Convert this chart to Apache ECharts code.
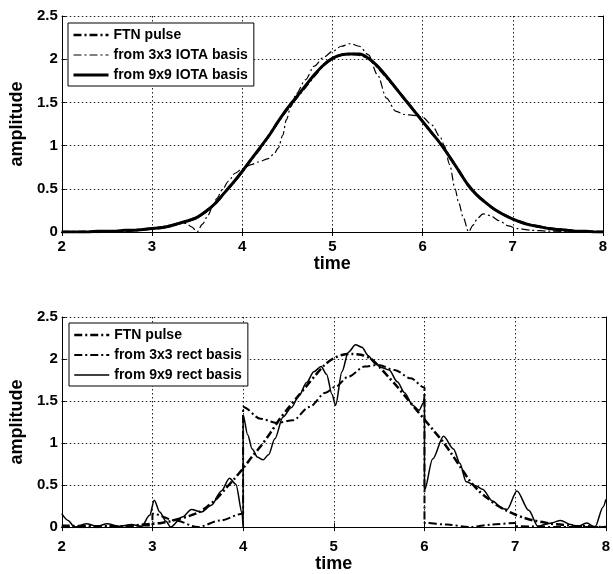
<!DOCTYPE html>
<html>
<head>
<meta charset="utf-8">
<script src="https://cdn.jsdelivr.net/npm/echarts@6/dist/echarts.min.js"></script>
<style>
  html, body { margin: 0; padding: 0; background: #fff; }
  #chart { width: 613px; height: 574px; }
</style>
</head>
<body>
<div id="chart"></div>
<script>
// ---------- data ----------
const xTicks = [2, 3, 4, 5, 6, 7, 8];
const yTicks = [0, 0.5, 1, 1.5, 2, 2.5];

const timeGrid = [2.0, 2.1, 2.2, 2.3, 2.4, 2.5, 2.6, 2.7, 2.8, 2.9,
  3.0, 3.1, 3.2, 3.3, 3.4, 3.5, 3.6, 3.7, 3.8, 3.9,
  4.0, 4.1, 4.2, 4.3, 4.4, 4.5, 4.6, 4.7, 4.8, 4.9,
  5.0, 5.1, 5.2, 5.3, 5.4, 5.5, 5.6, 5.7, 5.8, 5.9,
  6.0, 6.1, 6.2, 6.3, 6.4, 6.5, 6.6, 6.7, 6.8, 6.9,
  7.0, 7.1, 7.2, 7.3, 7.4, 7.5, 7.6, 7.7, 7.8, 7.9, 8.0];

const ftnPulse = [0.00, 0.00, 0.00, 0.00, 0.00, 0.01, 0.01, 0.01, 0.02, 0.03,
  0.04, 0.05, 0.07, 0.10, 0.13, 0.17, 0.24, 0.33, 0.45, 0.57,
  0.70, 0.84, 0.97, 1.12, 1.28, 1.42, 1.55, 1.68, 1.81, 1.93,
  2.01, 2.05, 2.06, 2.05, 2.01, 1.91, 1.79, 1.67, 1.54, 1.41,
  1.28, 1.15, 1.02, 0.87, 0.71, 0.55, 0.43, 0.34, 0.26, 0.20,
  0.15, 0.11, 0.08, 0.06, 0.04, 0.03, 0.02, 0.01, 0.01, 0.00, 0.00];

const iota9 = [0.00, 0.00, 0.00, 0.00, 0.01, 0.01, 0.01, 0.02, 0.02, 0.03,
  0.04, 0.05, 0.07, 0.10, 0.13, 0.17, 0.24, 0.33, 0.45, 0.57,
  0.70, 0.84, 0.98, 1.12, 1.28, 1.43, 1.56, 1.69, 1.82, 1.93,
  2.01, 2.05, 2.06, 2.06, 2.01, 1.92, 1.80, 1.67, 1.54, 1.41,
  1.28, 1.15, 1.02, 0.87, 0.71, 0.55, 0.43, 0.34, 0.26, 0.20,
  0.15, 0.11, 0.08, 0.06, 0.04, 0.03, 0.02, 0.01, 0.01, 0.00, 0.00];

const iota3Time = [2.0, 2.5, 2.8, 3.0, 3.1, 3.2, 3.3, 3.38, 3.44, 3.5, 3.56, 3.62, 3.67, 3.72, 3.78, 3.85, 3.92,
  4.0, 4.1, 4.18, 4.29, 4.35, 4.4, 4.45, 4.49, 4.54, 4.6, 4.7, 4.8, 4.9, 5.0, 5.1, 5.2, 5.3, 5.4, 5.5,
  5.6, 5.7, 5.8, 5.9, 6.0, 6.1, 6.2, 6.24, 6.3, 6.36, 6.4, 6.45, 6.51, 6.56, 6.61, 6.67, 6.75, 6.85,
  6.95, 7.05, 7.2, 7.4, 7.7, 8.0];
const iota3 = [0.00, 0.01, 0.02, 0.04, 0.06, 0.08, 0.10, 0.10, 0.06, 0.00, 0.09, 0.19, 0.29, 0.39, 0.49, 0.59, 0.68,
  0.73, 0.78, 0.81, 0.85, 0.90, 0.97, 1.12, 1.30, 1.45, 1.60, 1.76, 1.92, 2.02, 2.09, 2.15, 2.18, 2.15, 2.05, 1.82,
  1.55, 1.40, 1.36, 1.35, 1.33, 1.24, 1.09, 1.00, 0.78, 0.50, 0.34, 0.17, 0.00, 0.08, 0.16, 0.21, 0.19, 0.13,
  0.07, 0.04, 0.02, 0.01, 0.00, 0.00];

const rect3Time = [2.0, 2.5, 3.0, 3.0, 3.25, 3.5, 3.75, 4.0, 4.0, 4.19, 4.37, 4.55, 4.73, 4.91, 5.02, 5.16,
  5.34, 5.49, 5.67, 5.85, 6.0, 6.0, 6.25, 6.5, 6.75, 7.0, 7.0, 7.5, 8.0];
const rect3 = [0.02, 0.01, 0.02, 0.16, 0.08, 0.00, 0.08, 0.16, 1.43, 1.29, 1.24, 1.27, 1.43, 1.60, 1.67, 1.79,
  1.91, 1.93, 1.87, 1.77, 1.66, 0.05, 0.03, 0.00, 0.03, 0.05, 0.01, 0.00, 0.00];

const rect9Time = [2.0, 2.07, 2.14, 2.27, 2.39, 2.5, 2.63, 2.77, 2.88, 2.97, 3.02, 3.08, 3.15, 3.2, 3.33, 3.43,
  3.54, 3.65, 3.76, 3.85, 3.92, 3.99, 4.0, 4.0, 4.05, 4.1, 4.16, 4.22, 4.28, 4.35, 4.44, 4.53, 4.62, 4.7,
  4.78, 4.86, 4.92, 4.98, 5.02, 5.09, 5.16, 5.24, 5.31, 5.38, 5.45, 5.52, 5.61, 5.7, 5.78, 5.87, 5.94,
  5.99, 6.0, 6.0, 6.09, 6.21, 6.32, 6.39, 6.46, 6.57, 6.64, 6.75, 6.86, 6.91, 7.02, 7.15, 7.25, 7.4, 7.5,
  7.61, 7.68, 7.79, 7.88, 7.97, 8.0];
const rect9 = [0.16, 0.08, 0.00, 0.04, 0.01, 0.04, 0.01, 0.03, 0.01, 0.14, 0.32, 0.18, 0.07, 0.00, 0.12, 0.21,
  0.18, 0.26, 0.43, 0.58, 0.51, 0.16, 0.00, 1.33, 1.10, 0.93, 0.83, 0.80, 0.86, 1.05, 1.31, 1.42, 1.57, 1.72,
  1.85, 1.91, 1.82, 1.58, 1.45, 1.85, 2.08, 2.17, 2.14, 2.04, 1.95, 1.90, 1.87, 1.73, 1.60, 1.45, 1.39,
  1.48, 1.58, 0.44, 0.81, 1.08, 0.93, 0.76, 0.54, 0.49, 0.45, 0.31, 0.22, 0.21, 0.43, 0.20, 0.01, 0.05, 0.08,
  0.03, 0.00, 0.05, 0.00, 0.24, 0.33];

// ---------- helpers ----------
function pairs(xs, ys) { return xs.map((x, i) => [x, ys[i]]); }

const FONT = "'Liberation Sans', Arial, Helvetica, sans-serif";
const DASHDOT = [8, 3, 2, 3];

function axesFor(gridIndex) {
  const common = { type: 'value', gridIndex: gridIndex, min: xTicks[0], max: xTicks[xTicks.length - 1], interval: 1 };
  const yCommon = { type: 'value', gridIndex: gridIndex, min: yTicks[0], max: yTicks[yTicks.length - 1], interval: 0.5 };
  const line = { show: true, lineStyle: { color: '#000', width: 1 } };
  const tick = { show: true, inside: true, length: 4, lineStyle: { color: '#000' } };
  const split = { show: true, lineStyle: { color: '#222', width: 1, type: [1.5, 2.5] } };
  return {
    x: [
      Object.assign({}, common, {
        position: 'bottom', axisLine: line, axisTick: tick, splitLine: split,
        axisLabel: { color: '#000', fontFamily: FONT, fontWeight: 'bold', fontSize: 15, margin: gridIndex === 0 ? 7 : 12 },
        name: 'time', nameLocation: 'middle', nameGap: gridIndex === 0 ? 16 : 22,
        nameTextStyle: { color: '#000', fontFamily: FONT, fontWeight: 'bold', fontSize: 18 }
      }),
      Object.assign({}, common, {
        position: 'top', axisLine: line, axisTick: tick, splitLine: { show: false }, axisLabel: { show: false }
      })
    ],
    y: [
      Object.assign({}, yCommon, {
        position: 'left', axisLine: line, axisTick: tick, splitLine: split,
        axisLabel: { color: '#000', fontFamily: FONT, fontWeight: 'bold', fontSize: 15, margin: 4 },
        name: 'amplitude', nameLocation: 'middle', nameGap: 27, nameRotate: 90,
        nameTextStyle: { color: '#000', fontFamily: FONT, fontWeight: 'bold', fontSize: 18 }
      }),
      Object.assign({}, yCommon, {
        position: 'right', axisLine: line, axisTick: tick, splitLine: { show: false }, axisLabel: { show: false }
      })
    ]
  };
}

const a0 = axesFor(0);
const a1 = axesFor(1);

const legendText = { color: '#000', fontFamily: FONT, fontWeight: 'bold', fontSize: 14 };
const hiddenSymbol = { color: 'transparent', borderWidth: 0, opacity: 0 };
function legendBox(left, top, items) {
  return {
    orient: 'vertical', left: left, top: top, itemWidth: 35, itemHeight: 14, itemGap: 6,
    padding: [5, 6, 4, 4], borderColor: '#000', borderWidth: 1, borderRadius: 0,
    backgroundColor: '#fff', selectedMode: false, textStyle: legendText,
    itemStyle: hiddenSymbol,
    data: items.map(it => Object.assign({ itemStyle: hiddenSymbol }, it))
  };
}

const option = {
  backgroundColor: '#fff',
  animation: false,
  grid: [
    { left: 54, top: 16, width: 549, height: 216, show: false },
    { left: 54, top: 317, width: 557, height: 217, show: false }
  ],
  xAxis: [a0.x[0], a0.x[1], a1.x[0], a1.x[1]],
  yAxis: [a0.y[0], a0.y[1], a1.y[0], a1.y[1]],
  legend: [
    legendBox(68, 23, [
      { name: 'FTN pulse', lineStyle: { width: 2.5, type: DASHDOT } },
      { name: 'from 3x3 IOTA basis', lineStyle: { width: 1.2, type: DASHDOT } },
      { name: 'from 9x9 IOTA basis', lineStyle: { width: 3, type: 'solid' } }
    ]),
    legendBox(69, 323, [
      { name: 'FTN pulse', lineStyle: { width: 2.5, type: DASHDOT } },
      { name: 'from 3x3 rect basis', lineStyle: { width: 2, type: DASHDOT } },
      { name: 'from 9x9 rect basis', lineStyle: { width: 1.5, type: 'solid' } }
    ])
  ],
  series: [
    { name: 'FTN pulse', type: 'line', xAxisIndex: 0, yAxisIndex: 0, symbol: 'none', smooth: 0.3,
      itemStyle: { color: '#000' },
      data: pairs(timeGrid, ftnPulse), lineStyle: { color: '#000', width: 2.5, type: DASHDOT }, z: 3 },
    { name: 'from 3x3 IOTA basis', type: 'line', xAxisIndex: 0, yAxisIndex: 0, symbol: 'none', smooth: 0.3,
      smoothMonotone: 'x', itemStyle: { color: '#000' },
      data: pairs(iota3Time, iota3), lineStyle: { color: '#000', width: 1.2, type: DASHDOT }, z: 4 },
    { name: 'from 9x9 IOTA basis', type: 'line', xAxisIndex: 0, yAxisIndex: 0, symbol: 'none', smooth: 0.3,
      itemStyle: { color: '#000' },
      data: pairs(timeGrid, iota9), lineStyle: { color: '#000', width: 3, type: 'solid' }, z: 5 },

    { name: 'FTN pulse', type: 'line', xAxisIndex: 2, yAxisIndex: 2, symbol: 'none', smooth: 0.3,
      itemStyle: { color: '#000' },
      data: pairs(timeGrid, ftnPulse), lineStyle: { color: '#000', width: 2.5, type: DASHDOT }, z: 3 },
    { name: 'from 3x3 rect basis', type: 'line', xAxisIndex: 2, yAxisIndex: 2, symbol: 'none', smooth: 0.3,
      smoothMonotone: 'x', itemStyle: { color: '#000' },
      data: pairs(rect3Time, rect3), lineStyle: { color: '#000', width: 2, type: DASHDOT }, z: 4 },
    { name: 'from 9x9 rect basis', type: 'line', xAxisIndex: 2, yAxisIndex: 2, symbol: 'none', smooth: 0.3,
      smoothMonotone: 'x', itemStyle: { color: '#000' },
      data: pairs(rect9Time, rect9), lineStyle: { color: '#000', width: 1.5, type: 'solid' }, z: 5 }
  ]
};

const chart = echarts.init(document.getElementById('chart'), null, { renderer: 'canvas' });
chart.setOption(option);
</script>
</body>
</html>
